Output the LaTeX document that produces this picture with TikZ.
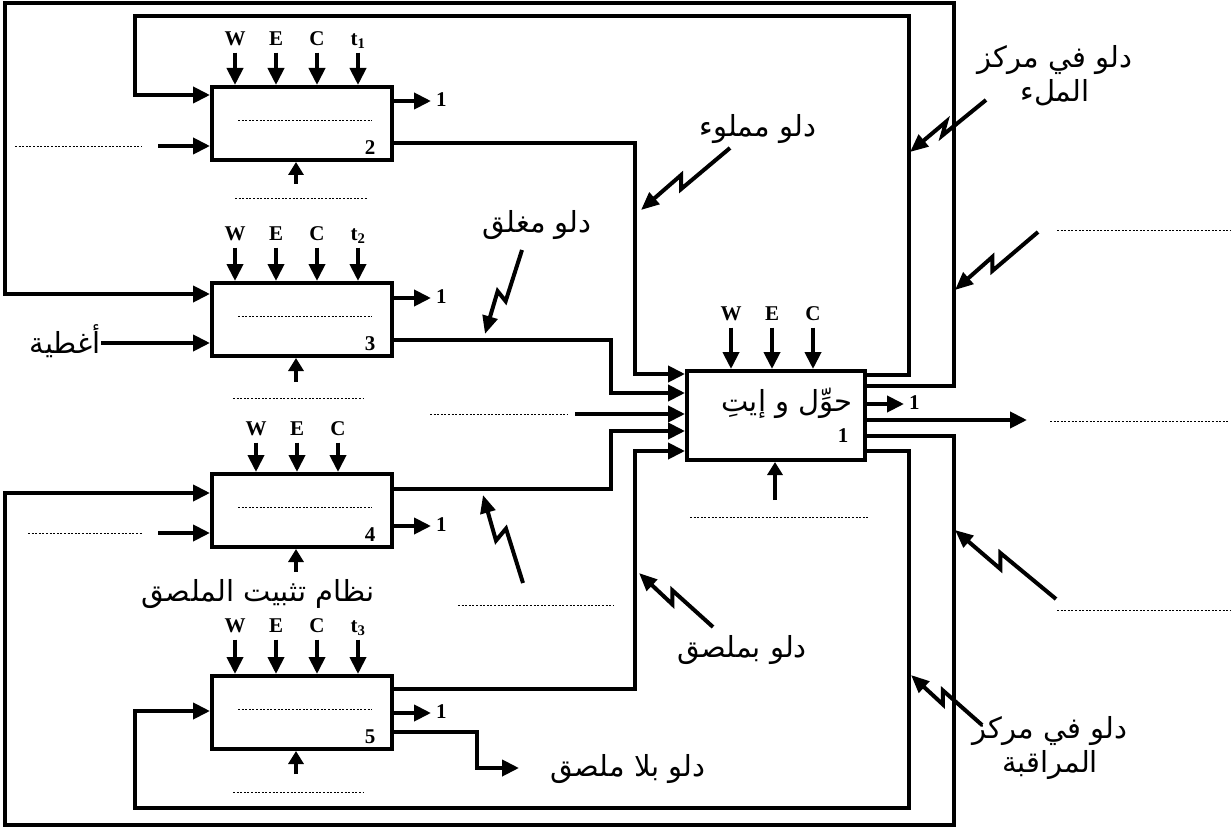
\documentclass[tikz,border=0pt]{standalone}
\usepackage{fontspec}
\setmainfont{Liberation Serif}
\newfontfamily\arabicfont[Script=Arabic]{DejaVu Sans}
\TeXXeTstate=1
\usetikzlibrary{arrows.meta,positioning,calc}

\begin{document}
\begin{tikzpicture}[x=1pt,y=-1pt,
  blk/.style={draw,line width=4pt,minimum width=180pt,minimum height=73pt,inner sep=0pt},
  wire/.style={line width=4pt},
  flow/.style={wire,-{Triangle[length=17pt,width=16pt]}},
  stub/.style={wire,-{Triangle[length=13pt,width=15pt]}},
  zap/.style={wire,-{Triangle[length=18pt,width=15pt]},
    to path={-- ($(\tikztostart)!.55!(\tikztotarget)+(#1)$)
             -- ($(\tikztostart)!.55!(\tikztotarget)-(#1)$) -- (\tikztotarget)}},
  dots/.style={line width=0.9pt,dash pattern=on 2pt off 1.6pt},
  lat/.style={font=\fontsize{21}{21}\selectfont\bfseries,inner sep=2pt,text height=14pt,text depth=3pt},
  ar/.style={font=\fontsize{29}{34}\selectfont\arabicfont,align=center,inner sep=0pt}]
  \useasboundingbox (0,0) rectangle (1231,829);

  % boxes
  \node[blk] (b2) at (302,123.5) {};
  \node[blk] (b3) at (302,319.5) {};
  \node[blk] (b4) at (302,510.5) {};
  \node[blk] (b5) at (302,712.5) {};
  \node[blk,minimum width=178pt,minimum height=89pt] (b1) at (776,415.5) {};
  \node[ar] (b1txt) at (787,403) {\beginR حوِّل و إيتِ\endR};
  \node[lat] (n1) at (843,437) {1};

  % dotted line and number inside
  \foreach \b/\n in {b2/2,b3/3,b4/4,b5/5}{
    \draw[dots] ($(\b.north west)+(28,35)$) -- ($(\b.north east)+(-22,35)$);
    \node[lat] (n\n) at ($(\b.south east)+(-24,-13)$) {\n};
  }

  % W E C t from above
  \foreach \b/\s/\h in {b2/1/45,b3/2/46,b5/3/47}{
    \foreach \dx/\lab [count=\k] in {25/W,66/E,107/C,148/t\textsubscript{\s}}{
      \node[lat] (\b-\k) at ($(\b.north west)+(\dx,-\h)$) {\lab};
      \draw[flow] ($(\b-\k.south)+(0,2)$) -- (\b-\k.south |- \b.north);
    }
  }
  \foreach \b/\h in {b4/42,b1/54}{
    \foreach \dx/\lab [count=\k] in {46/W,87/E,128/C}{
      \node[lat] (\b-\k) at ($(\b.north west)+(\dx,-\h)$) {\lab};
      \draw[flow] ($(\b-\k.south)+(0,2)$) -- (\b-\k.south |- \b.north);
    }
  }

  % short outputs 1
  \foreach \b/\dy in {b2/16,b3/17,b4/54,b5/39,b1/35}{
    \draw[flow] ($(\b.north east)+(0,\dy)$) -- ++(37,0) node[lat,right,inner sep=3pt] (\b-one) {1};
  }

  % from below
  \foreach \b/\len in {b2/22,b3/24,b4/23,b5/23}{
    \coordinate (\b-bot) at ($(\b.south)+(-6,\len)$);
    \draw[stub] (\b-bot) -- (\b-bot |- \b.south);
  }
  \coordinate (b1-bot) at ($(b1.south)+(-1,38)$);
  \draw[stub] (b1-bot) -- (b1-bot |- b1.south);
  \draw[dots] ($(b2.south west)+(25,36)$) -- ($(b2.south east)+(-27,36)$);
  \draw[dots] ($(b3.south west)+(23,40)$) -- ($(b3.south east)+(-30,40)$);
  \draw[dots] ($(b5.south west)+(23,41)$) -- ($(b5.south east)+(-30,41)$);
  \draw[dots] ($(b1.south west)+(5,55)$) -- ($(b1.south east)+(1,55)$);
  \node[ar] (fix) at ($(b4.south)+(-44,45)$) {\beginR نظام تثبيت الملصق\endR};

  % from the left
  \draw[dots] (15,146) -- (142,146);
  \coordinate (b2-in) at (158,146);
  \draw[flow] (b2-in) -- (b2-in -| b2.west);
  \node[ar,anchor=east] (caps) at (101,341) {\beginR أغطية\endR};
  \draw[flow] (caps.east |- 0,343) -- (b3.west |- 0,343);
  \draw[dots] (28,533) -- (142,533);
  \coordinate (b4-in) at (158,533);
  \draw[flow] (b4-in) -- (b4-in -| b4.west);

  % into box 1
  \draw[flow] ($(b2.south east)+(0,-19)$) -| ($(b1.north west)+(-50,5)$) -- ($(b1.north west)+(0,5)$);
  \draw[flow] ($(b3.south east)+(0,-18)$) -| ($(b1.north west)+(-74,24)$) -- ($(b1.north west)+(0,24)$);
  \draw[dots] (430,414) -- (568,414);
  \coordinate (b1-in) at (575,414);
  \draw[flow] (b1-in) -- (b1-in -| b1.west);
  \draw[flow] ($(b4.north east)+(0,17)$) -| ($(b1.north west)+(-74,62)$) -- ($(b1.north west)+(0,62)$);
  \draw[flow] ($(b5.north east)+(0,15)$) -| ($(b1.north west)+(-50,82)$) -- ($(b1.north west)+(0,82)$);
  \draw[flow] ($(b5.north east)+(0,58)$) -- ++(83,0) -- ++(0,36) -- ++(42,0);
  \node[ar] (nolab) at (628,769) {\beginR دلو بلا ملصق\endR};

  % return loops
  \draw[flow] ($(b1.north east)+(0,6)$) -- ++(42,0) |- (135,16) |- ($(b2.north west)+(0,10)$);
  \draw[flow] ($(b1.north east)+(0,17)$) -- ++(87,0) |- (5,3) |- ($(b3.north west)+(0,13)$);
  \draw[flow] ($(b1.north east)+(0,67)$) -- ++(87,0) |- (5,825) |- ($(b4.north west)+(0,21)$);
  \draw[flow] ($(b1.north east)+(0,82)$) -- ++(42,0) |- (135,808) |- ($(b5.north west)+(0,37)$);

  % output
  \draw[flow] ($(b1.north east)+(0,51)$) -- ++(160,0);
  \draw[dots] (1050,421) -- (1228,421);
  \draw[dots] (1057,230) -- (1231,230);
  \draw[dots] (1057,610) -- (1231,610);
  \draw[dots] (458,605) -- (613,605);

  % zigzag pointers
  \draw[zap={0,7}] (730,148) to (641,210);
  \node[ar] (full) at (758,129) {\beginR دلو مملوء\endR};
  \draw[zap={4,5}] (522,250) to (485,334);
  \node[ar] (closed) at (537,225) {\beginR دلو مغلق\endR};
  \draw[zap={5,-6}] (523,583) to (483,495);
  \draw[zap={0,-7}] (713,627) to (639,573);
  \node[ar] (withlab) at (742,650) {\beginR دلو بملصق\endR};
  \draw[zap={-2,7}] (986,100) to (910,152);
  \node[ar] (fillc) at (1055,76) {\beginR دلو في مركز\endR\\\beginR الملء\endR};
  \draw[zap={0,7}] (1038,232) to (955,290);
  \draw[zap={0,-8}] (1056,599) to (955,530);
  \draw[zap={0,-7}] (982,725) to (911,675);
  \node[ar] (ctrl) at (1050,748) {\beginR دلو في مركز\endR\\\beginR المراقبة\endR};
\end{tikzpicture}
\end{document}
